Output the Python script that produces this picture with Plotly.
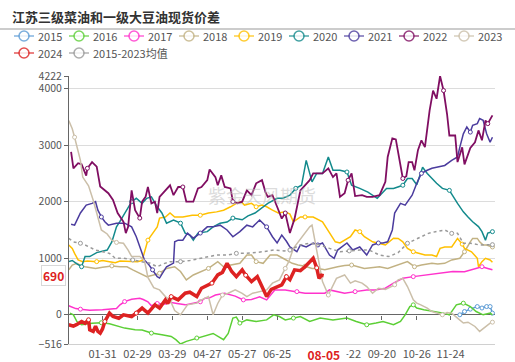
import plotly.graph_objects as go

# ---- data (x = day of year index, y = price spread) ----
d2015 = [337, 341, 346, 352, 356, 360, 363, 365]
v2015 = [0, 58, 100, 146, 120, 146, 146, 30]

d2016 = [2, 5, 8, 12, 21, 29, 36, 41, 49, 58, 64, 68, 72, 81, 85, 89, 93, 97, 102, 111,
         120, 125, 134, 138, 142, 145, 148, 154, 162, 171, 177, 182, 187, 194, 200, 208, 217, 228, 240, 248,
         257, 265, 271, 280, 286, 290, 294, 297, 300, 306, 317, 323, 328, 334, 340, 346, 351, 357, 363, 365]
v2016 = [30, 0, -118, -176, -150, -140, -160, -190, -235, -264, -270, -294, -323, -352, -370, -382, -440, -516, -470, -410,
         -352, -330, -440, -330, -58, -40, -146, -90, -118, -90, 0, -30, -90, -58, -30, -118, -58, -90, -58, -118,
         -176, -146, -118, -176, -118, 0, 146, 176, 120, 90, 58, 30, 0, 176, 206, 146, 58, 0, 30, 0]

d2017 = [1, 4, 7, 11, 19, 30, 38, 42, 45, 49, 55, 62, 65, 69, 72, 77, 84, 88, 94, 101,
         108, 114, 118, 122, 127, 135, 144, 151, 158, 165, 171, 178, 187, 197, 204, 211, 221, 225, 238, 247,
         257, 264, 273, 280, 288, 297, 309, 320, 331, 341, 352, 356, 361, 365]
v2017 = [160, 140, 110, 100, 80, 90, 100, 110, 176, 234, 276, 294, 270, 230, 160, 200, 190, 220, 200, 176,
         206, 230, 294, 300, 350, 382, 330, 264, 270, 320, 264, 440, 440, 410, 382, 380, 382, 440, 382, 410,
         440, 440, 470, 560, 645, 675, 705, 735, 765, 760, 820, 850, 820, 795]

d2018 = [1, 4, 8, 12, 15, 24, 30, 38, 45, 51, 56, 62, 68, 73, 79, 85, 92, 97, 102, 108,
         115, 121, 129, 134, 138, 148, 154, 158, 162, 168, 174, 180, 185, 193, 198, 204, 210, 215, 221, 227,
         232, 238, 244, 255, 264, 268, 275, 284, 292, 298, 304, 313, 318, 324, 330, 337, 341, 346, 348, 352,
         354, 357, 360, 365]
v2018 = [795, 880, 910, 865, 850, 820, 840, 865, 850, 850, 795, 735, 675, 700, 735, 820, 850, 765, 617, 705,
         765, 820, 940, 850, 870, 910, 1057, 1057, 940, 910, 1057, 1057, 1000, 910, 880, 860, 820, 820, 795, 830,
         850, 870, 880, 820, 850, 850, 820, 880, 940, 850, 880, 910, 900, 910, 970, 1000, 1115, 1290, 1350, 1350,
         1290, 1235, 1235, 1200]

d2019 = [1, 4, 6, 9, 13, 17, 25, 30, 36, 41, 45, 54, 60, 64, 66, 69, 72, 77, 79, 84,
         88, 92, 99, 107, 114, 121, 128, 134, 140, 145, 149, 152, 158, 162, 167, 171, 176, 181, 187, 191,
         194, 200, 204, 211, 219, 225, 230, 234, 238, 243, 247, 251, 255, 262, 267, 273, 280, 284, 288, 292,
         297, 301, 307, 313, 317, 320, 324, 330, 335, 339, 341, 347, 352, 353, 356, 359, 363, 365]
v2019 = [1235, 1175, 1087, 970, 940, 950, 940, 960, 940, 920, 950, 945, 940, 960, 1087, 1320, 1410, 1555, 1710, 1730,
         1800, 1730, 1730, 1760, 1760, 1800, 1820, 1850, 1910, 1970, 2000, 1940, 1970, 1910, 1940, 1910, 1850, 1800, 1820, 1780,
         1645, 1730, 1730, 1730, 1645, 1445, 1290, 1270, 1320, 1380, 1500, 1470, 1380, 1290, 1265, 1235, 1355, 1350, 1290, 1175,
         1115, 1087, 1057, 1057, 1030, 1175, 1200, 1200, 1350, 1250, 1175, 1115, 1000, 850, 940, 1000, 970, 930]

d2020 = [1, 4, 8, 12, 15, 19, 25, 34, 38, 42, 45, 49, 55, 59, 64, 68, 72, 77, 81, 85,
         91, 97, 101, 105, 108, 112, 120, 125, 131, 137, 142, 150, 155, 161, 167, 172, 180, 185, 191, 196,
         201, 205, 210, 214, 219, 224, 228, 234, 240, 244, 251, 258, 266, 270, 274, 280, 284, 288, 292, 296,
         300, 305, 309, 314, 317, 322, 328, 335, 340, 344, 348, 353, 356, 359, 361, 365]
v2020 = [940, 960, 900, 850, 1030, 1030, 1100, 1145, 1290, 1555, 1650, 1800, 2000, 2060, 1970, 2060, 2085, 1910, 1800, 1620,
         1675, 1620, 1445, 1410, 1320, 1445, 1470, 1555, 1620, 1640, 1710, 1680, 1750, 1800, 1885, 1970, 2060, 2060, 2115, 2235,
         2290, 2730, 2350, 2500, 2500, 2790, 2555, 2555, 2525, 2290, 2235, 2170, 2060, 2150, 2235, 2235, 2260, 2290, 2410, 2410,
         2300, 2610, 2500, 2380, 2325, 2235, 2200, 1970, 1820, 1730, 1645, 1560, 1470, 1320, 1445, 1470]

d2021 = [3, 6, 11, 16, 21, 24, 26, 29, 32, 35, 42, 49, 55, 59, 64, 66, 70, 73, 77, 79,
         85, 91, 92, 95, 99, 103, 108, 114, 120, 125, 131, 137, 142, 148, 154, 159, 165, 171, 176, 180,
         184, 188, 191, 197, 200, 205, 211, 215, 219, 225, 229, 232, 240, 245, 251, 257, 262, 267, 271, 275,
         279, 281, 286, 290, 292, 296, 300, 304, 309, 313, 317, 324, 330, 335, 337, 340, 343, 346, 348, 352,
         354, 357, 360, 363, 365]
v2021 = [1600, 1585, 1800, 1940, 1970, 2000, 1850, 1730, 1645, 1585, 1620, 1620, 1555, 1380, 1087, 970, 880, 795, 675, 650,
         850, 915, 1290, 1320, 1320, 1445, 1355, 1445, 1555, 1555, 1585, 1500, 1380, 1470, 1585, 1555, 1675, 1555, 1380, 1270,
         1410, 1300, 1200, 1115, 1235, 1200, 1270, 1235, 1270, 1057, 1000, 1145, 1270, 1145, 1200, 1057, 1235, 1270, 1270, 1290,
         1500, 1800, 1970, 1940, 2000, 2115, 2325, 2500, 2555, 2590, 2610, 2640, 2730, 2790, 2965, 3200, 3320, 3230, 3350, 3380,
         3470, 3440, 3200, 3050, 3140]

d2022 = [3, 5, 9, 12, 16, 17, 21, 25, 28, 35, 39, 43, 48, 50, 52, 55, 58, 62, 64, 67,
         69, 72, 75, 77, 79, 84, 88, 91, 95, 99, 102, 108, 112, 115, 120, 122, 127, 129, 132, 135,
         140, 142, 146, 150, 154, 158, 162, 167, 170, 172, 176, 180, 184, 187, 191, 195, 200, 208, 211, 219,
         224, 228, 231, 234, 238, 241, 244, 247, 253, 257, 262, 268, 273, 275, 279, 282, 285, 288, 291, 293,
         296, 298, 301, 304, 307, 311, 314, 317, 320, 323, 326, 328, 333, 335, 339, 341, 346, 350, 353, 356,
         359, 361, 365]
v2022 = [2880, 2590, 2680, 2660, 2460, 2590, 2700, 2620, 2270, 2150, 2030, 1800, 1645, 1445, 1555, 2200, 1850, 1710, 2000, 2085,
         2260, 1970, 2000, 1800, 2085, 2200, 2290, 2115, 2260, 2260, 2000, 2000, 2235, 2260, 2380, 2570, 2435, 2290, 2465, 2260,
         2235, 2000, 1970, 2000, 2200, 2115, 2325, 2380, 2170, 2085, 2115, 1910, 1700, 1800, 1445, 1700, 2200, 2380, 2500, 2500,
         2590, 2435, 2500, 2085, 2150, 2380, 2500, 2100, 2115, 2085, 2085, 2115, 2350, 2790, 3120, 3100, 2730, 2410, 2450, 2700,
         2700, 2555, 2910, 3085, 2965, 3610, 3965, 3820, 4222, 3965, 3550, 3170, 3170, 2700, 2960, 2660, 2950, 3050, 3260, 3085,
         3435, 3380, 3525]

d2023 = [1, 4, 6, 10, 11, 13, 18, 22, 26, 29, 34, 38, 42, 48, 52, 55, 62, 66, 69, 74,
         79, 84, 88, 92, 97, 100, 103, 111, 115, 121, 125, 129, 133, 138, 144, 150, 154, 159, 165, 171,
         176, 182, 187, 190, 194, 198, 204, 208, 210, 215, 217, 219, 224, 231, 238, 243, 247, 253, 257, 262,
         267, 273, 281, 284, 288, 292, 297, 300, 303, 309, 313, 317, 322, 326, 330, 335, 340, 344, 350, 354,
         359, 363, 365]
v2023 = [3435, 3290, 3140, 2850, 2730, 2435, 2280, 2025, 1700, 1500, 1430, 1320, 1280, 1265, 1145, 1030, 1030, 960, 660, 480,
         440, 322, 264, 75, 0, 100, 176, 206, 264, 322, 0, 200, 350, 382, 440, 380, 322, 382, 410, 440,
         560, 617, 820, 940, 1175, 1290, 1440, 1555, 1585, 1057, 850, 587, 350, 645, 705, 560, 600, 560, 500, 382,
         470, 450, 530, 617, 645, 500, 264, 206, 180, 118, 58, 30, 0, 40, 30, -58, -146, -130, -206, -294,
         -206, -146, -130]

d2024 = [1, 5, 8, 12, 15, 18, 19, 22, 24, 26, 28, 30, 32, 35, 36, 39, 44, 48, 55, 59,
         64, 69, 75, 79, 84, 86, 89, 95, 101, 105, 111, 115, 118, 124, 129, 133, 137, 141, 145, 150,
         153, 158, 163, 167, 171, 175, 184, 188, 191, 195, 200, 204, 208, 211, 214, 216, 218, 220]
v2024 = [-176, -200, -170, -118, -150, -88, -264, -294, -200, -294, -323, -250, -118, 0, 30, -30, -60, 0, -30, 30,
         118, 30, 176, 120, 264, 200, 322, 264, 382, 400, 322, 470, 500, 560, 705, 750, 910, 765, 675, 795,
         700, 587, 675, 500, 322, 450, 530, 675, 620, 795, 780, 850, 940, 1000, 830, 645, 700, 690]

davg = [1, 5, 11, 15, 24, 36, 41, 48, 56, 64, 71, 77, 82, 88, 97, 105, 114, 121, 128, 137,
        145, 153, 161, 168, 177, 186, 191, 200, 208, 217, 225, 234, 242, 251, 259, 268, 276, 284, 292, 301,
        310, 316, 320, 324, 330, 335, 340, 346, 354, 360, 365]
vavg = [1350, 1290, 1265, 1235, 1145, 1087, 1000, 1000, 970, 940, 910, 850, 900, 940, 940, 960, 1000, 1030, 1057, 1057,
        1087, 1087, 1100, 1115, 1145, 1130, 1145, 1235, 1265, 1235, 1175, 1115, 1130, 1145, 1145, 1057, 1030, 1100, 1265, 1350,
        1440, 1470, 1490, 1500, 1440, 1440, 1265, 1265, 1235, 1235, 1240]

tick_pos = [30, 60, 90, 120, 150, 180, 240, 270, 300, 329]
tick_text = ["01-31", "02-29", "03-29", "04-27", "05-27", "06-25", "08-22", "09-20", "10-26", "11-24"]
y_ticks = [-516, 0, 1000, 2000, 3000, 4000, 4222]
current_label = "08-05"

series = [
    ("2015", d2015, v2015, "#5b9bd5", 1.5, "solid"),
    ("2016", d2016, v2016, "#5ccf36", 1.5, "solid"),
    ("2017", d2017, v2017, "#ff33cc", 1.5, "solid"),
    ("2018", d2018, v2018, "#c2b283", 1.5, "solid"),
    ("2019", d2019, v2019, "#ffc000", 1.5, "solid"),
    ("2020", d2020, v2020, "#138a8c", 1.5, "solid"),
    ("2021", d2021, v2021, "#4b3c9e", 1.5, "solid"),
    ("2022", d2022, v2022, "#800e62", 1.8, "solid"),
    ("2023", d2023, v2023, "#cbbfa9", 1.5, "solid"),
    ("2024", d2024, v2024, "#dd2222", 3.5, "solid"),
    ("2015-2023均值", davg, vavg, "#999999", 1.5, "dot"),
]

FONT = "Noto Sans CJK SC, Noto Sans, sans-serif"
xr = [1.2, 367.2]
yr = [-516, 4222]

# layout geometry (pixels) used for the hand-built legend
W, H = 515, 362
ML, MR, MT, MB = 69, 20, 76, 18
PW, PH = W - ML - MR, H - MT - MB


def px_x(p):
    return (p - ML) / PW


def px_y(p):
    return (H - MB - p) / PH


fig = go.Figure()
for name, d, v, color, w, dash in series:
    fig.add_trace(go.Scatter(
        x=d, y=v, mode="lines+markers", name=name, showlegend=False,
        line=dict(color=color, width=w, dash=dash),
        marker=dict(symbol="circle", size=4, color="white",
                    line=dict(color=color, width=1), maxdisplayed=9),
        hoverinfo="skip"))

# axis carrying the tick marks on the zero line
fig.add_trace(go.Scatter(x=[d2024[0]], y=[v2024[0]], xaxis="x2", mode="none",
                         showlegend=False, hoverinfo="skip"))

zero_frac = (0 - yr[0]) / (yr[1] - yr[0])

shapes = [dict(type="line", xref="paper", yref="paper", x0=px_x(0), x1=px_x(W),
               y0=px_y(29), y1=px_y(29), line=dict(color="#999", width=1))]
annotations = []
# legend: 9 items on the first row, the rest on the second
for i, (name, d, v, color, w, dash) in enumerate(series):
    row, col = (0, i) if i < 9 else (1, i - 9)
    cx = 24 + 55 * col
    cy = 36 + 17 * row
    shapes.append(dict(type="line", xref="paper", yref="paper",
                       x0=px_x(cx - 10), x1=px_x(cx + 10), y0=px_y(cy), y1=px_y(cy),
                       opacity=0.75, line=dict(color=color, width=1.5)))
    shapes.append(dict(type="circle", xref="paper", yref="paper",
                       x0=px_x(cx - 5), x1=px_x(cx + 5), y0=px_y(cy + 5), y1=px_y(cy - 5),
                       fillcolor="white", opacity=0.8, line=dict(color=color, width=1.5)))
    annotations.append(dict(text=name, xref="paper", yref="paper", x=px_x(cx + 12), y=px_y(cy),
                            xanchor="left", yanchor="middle", showarrow=False,
                            font=dict(size=11, color="#555", family=FONT)))

annotations += [
    dict(text="<b>江苏三级菜油和一级大豆油现货价差</b>", xref="paper", yref="paper",
         x=px_x(10), y=px_y(16), xanchor="left", yanchor="middle", showarrow=False,
         font=dict(size=13, color="#333", family=FONT)),
    dict(text="紫金天风期货", xref="paper", yref="paper", x=px_x(262), y=px_y(195),
         showarrow=False, font=dict(size=18, color="rgba(190,190,190,0.55)", family=FONT)),
    dict(text="<b>%d</b>" % v2024[-1], xref="paper", yref="y", x=px_x(66), y=v2024[-1],
         xanchor="right", yanchor="middle", showarrow=False, bgcolor="white",
         bordercolor="#d8d8d8", borderwidth=1, borderpad=1,
         font=dict(size=12, color="#dd2222", family=FONT)),
    dict(text="\u00a0\u00a0<b>%s</b>\u00a0\u00a0" % current_label, xref="x", yref="paper",
         x=d2024[-1], y=px_y(354), xanchor="center", yanchor="middle", showarrow=False,
         bgcolor="white", borderpad=0,
         font=dict(size=12, color="#dd2222", family=FONT)),
]

fig.update_layout(
    width=W, height=H,
    margin=dict(l=ML, r=MR, t=MT, b=MB, autoexpand=False),
    paper_bgcolor="white", plot_bgcolor="white",
    font=dict(family=FONT, size=11, color="#555"),
    showlegend=False,
    xaxis=dict(range=xr, tickvals=tick_pos, ticktext=tick_text, showgrid=False, zeroline=False,
               showline=True, linecolor="#d0d0d0", linewidth=1, ticks="", automargin=False,
               tickfont=dict(size=11, color="#555")),
    xaxis2=dict(overlaying="x", anchor="free", position=zero_frac, range=xr, tickvals=tick_pos,
                showticklabels=False, ticks="outside", ticklen=4, tickcolor="#666", automargin=False,
                showgrid=False, zeroline=False, showline=False),
    yaxis=dict(range=yr, tickvals=y_ticks, showgrid=True, gridcolor="#dcdcdc", gridwidth=1,
               zeroline=True, zerolinecolor="#666", zerolinewidth=1, automargin=False,
               showline=True, linecolor="#666", linewidth=1, ticks="outside", ticklen=4,
               tickcolor="#666", tickfont=dict(size=10.5, color="#555")),
    shapes=shapes,
    annotations=annotations,
)

fig.write_html("out.html", config={"displayModeBar": False},
               post_script="document.body.style.margin='0';document.body.style.padding='0';")
